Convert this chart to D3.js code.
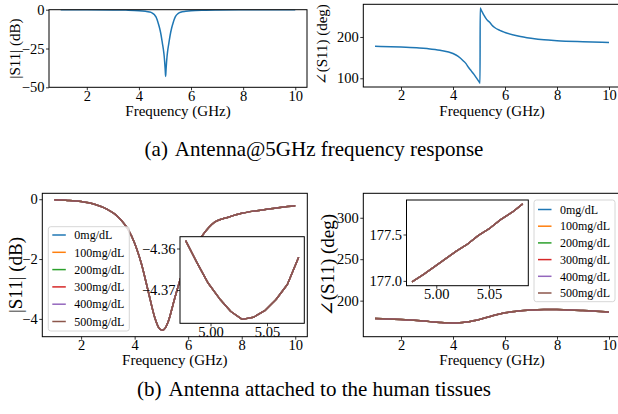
<!DOCTYPE html>
<html>
<head>
<meta charset="utf-8">
<script src="https://cdn.jsdelivr.net/npm/d3@7"></script>
<style>
  body { margin: 0; background: #fff; }
  svg, svg text { font-family: "Liberation Serif", "Times New Roman", Times, "DejaVu Serif", serif !important; fill: #000; }
</style>
</head>
<body>
<div id="chart"></div>
<script>
// (a) antenna alone: |S11| and phase
const freqRes = [1, 2, 3, 3.5, 4, 4.25, 4.4, 4.5, 4.6, 4.65, 4.7, 4.75, 4.8, 4.85, 4.9, 4.95, 4.97, 4.99, 5.01, 5.025,
                 5.04, 5.06, 5.08, 5.1, 5.15, 5.2, 5.25, 5.3, 5.35, 5.4, 5.5, 5.6, 5.8, 6, 6.5, 7, 8, 9, 10];
const magRes = [-0.03, -0.05, -0.12, -0.25, -0.6, -1.05, -1.45, -2.0, -3.3, -4.5, -6.5, -9.2, -12.3, -16.3, -21.5, -27, -30, -34, -39, -43,
                -39, -34, -30, -27, -21.5, -16.3, -12.3, -9.2, -6.5, -4.5, -2.5, -1.65, -1.05, -0.65, -0.3, -0.17, -0.08, -0.05, -0.03];
const freqPhase = [1, 2, 2.7, 3, 3.5, 4, 4.2, 4.4, 4.5, 4.6, 4.7, 4.8, 4.9, 5.0, 5.04,
                   5.045, 5.1, 5.17, 5.3, 5.4, 5.5, 5.6, 5.8, 6, 6.5, 7, 7.5, 8, 9, 10];
const phaseRes = [177.5, 175.5, 173.6, 172, 168, 160, 153, 142, 135.5, 126, 118, 110, 101, 92, 88,
                  270, 263, 255, 242, 236, 228.5, 223, 216, 211, 202.5, 197, 193, 191, 188.5, 186.5];

// (b) antenna on tissue, six glucose levels (curves overlap)
const concentrations = ["0mg/dL", "100mg/dL", "200mg/dL", "300mg/dL", "400mg/dL", "500mg/dL"];
const freqTissue = [1, 1.5, 2, 2.5, 3, 3.25, 3.5, 3.75, 4, 4.25, 4.5, 4.75, 4.9, 5.03, 5.15,
                    5.25, 5.5, 5.75, 6, 6.25, 6.5, 7, 7.5, 8, 8.5, 9, 9.5, 10];
const magTissue = [-0.02, -0.04, -0.08, -0.17, -0.35, -0.49, -0.7, -1.0, -1.47, -2.15, -3.05, -3.95, -4.29, -4.377, -4.30,
                   -4.1, -3.3, -2.55, -2.0, -1.6, -1.25, -0.76, -0.6, -0.47, -0.39, -0.33, -0.27, -0.22];
const phaseTissue = [178.5, 178, 177.2, 176.2, 175, 174.3, 173.7, 173.2, 173, 173.3, 174.2, 175.5, 176.4, 177.4, 178.4,
                     179.3, 181.5, 183.6, 185.3, 186.6, 187.6, 188.8, 189.3, 189.2, 188.8, 188.1, 187.3, 186.4];

// zoomed insets around 5 GHz
const freqMagZoom = [4.978, 4.988, 4.998, 5.008, 5.018, 5.028, 5.038, 5.048, 5.058, 5.068, 5.078];
const magZoom = [-4.3581, -4.3634, -4.3684, -4.3721, -4.3752, -4.3771, -4.3766, -4.3750, -4.3723, -4.3687, -4.3621];
const freqPhaseZoom = [4.977, 4.988, 4.998, 5.009, 5.019, 5.030, 5.040, 5.051, 5.061, 5.072, 5.082];
const phaseZoom = [176.99, 177.07, 177.15, 177.24, 177.32, 177.40, 177.49, 177.57, 177.66, 177.74, 177.83];

// tick values
const freqTicks = [2, 4, 6, 8, 10];
const magResTicks = [0, -25, -50];
const phaseResTicks = [100, 200];
const magTissueTicks = [0, -2, -4];
const phaseTissueTicks = [200, 250, 300];
const zoomFreqTicks = [5.00, 5.05];
const magZoomTicks = [-4.36, -4.37];
const phaseZoomTicks = [177.0, 177.5];

const colors = d3.schemeCategory10.slice(0, 6);
const FONT = '"Liberation Serif", "Times New Roman", Times, "DejaVu Serif", serif';
const tickFont = 14.5, labelFont = 15, legendFont = 12, captionFont = 21;

const svg = d3.select("#chart").append("svg")
    .attr("width", 618)
    .attr("height", 414)
    .attr("font-family", FONT);

// matplotlib style 5% autoscale margin
function padded(values){
    const [lo, hi] = d3.extent(values);
    const r = hi - lo;
    return [lo - r * 0.05, hi + r * 0.05];
}

let clipCount = 0;
function makeAxes(box, xDomain, yDomain, opt){
    const x = d3.scaleLinear().domain(xDomain).range([0, box.w]);
    const y = d3.scaleLinear().domain(yDomain).range([box.h, 0]);
    const g = svg.append("g").attr("transform", "translate(" + box.x + "," + box.y + ")");
    if (opt.background) {
        g.append("rect").attr("width", box.w).attr("height", box.h).attr("fill", "#fff");
    }
    const id = "clip" + (clipCount++);
    g.append("clipPath").attr("id", id)
        .append("rect").attr("width", box.w).attr("height", box.h);
    const plot = g.append("g").attr("clip-path", "url(#" + id + ")");

    const xAxisG = g.append("g")
        .attr("transform", "translate(0," + box.h + ")")
        .call(d3.axisBottom(x).tickValues(opt.xTicks).tickFormat(opt.xFormat)
            .tickSize(3).tickPadding(0).tickSizeOuter(0));
    const yAxisG = g.append("g")
        .call(d3.axisLeft(y).tickValues(opt.yTicks).tickFormat(opt.yFormat)
            .tickSize(3).tickPadding(1.5).tickSizeOuter(0));
    [xAxisG, yAxisG].forEach(a => {
        a.attr("font-family", FONT).attr("font-size", tickFont);
        a.select(".domain").remove();
        a.selectAll("line").attr("stroke", "#000").attr("stroke-width", 0.8);
        a.selectAll("text").attr("fill", "#000");
    });
    return {g, plot, x, y, box};
}

function frame(ax){
    ax.g.append("rect")
        .attr("width", ax.box.w).attr("height", ax.box.h)
        .attr("fill", "none").attr("stroke", "#000").attr("stroke-width", 1);
}

function drawLine(ax, xs, ys, color, curve){
    const pts = xs.map((f, i) => [f, ys[i]]);
    ax.plot.append("path")
        .datum(pts)
        .attr("fill", "none")
        .attr("stroke", color)
        .attr("stroke-width", 1.5)
        .attr("stroke-linejoin", "round")
        .attr("d", d3.line().x(d => ax.x(d[0])).y(d => ax.y(d[1])).curve(curve));
}

function xLabel(ax, text, baseline){
    svg.append("text")
        .attr("x", ax.box.x + ax.box.w / 2)
        .attr("y", baseline)
        .attr("text-anchor", "middle")
        .attr("font-size", labelFont)
        .text(text);
}

function yLabel(x, cy, text, size){
    svg.append("text")
        .attr("transform", "translate(" + x + "," + cy + ") rotate(-90)")
        .attr("text-anchor", "middle")
        .attr("font-size", size)
        .text(text);
}

// legend box with rows placed relative to its top-left corner
function legend(x, y, w, h, rowY0, rowGap){
    const lg = svg.append("g").attr("transform", "translate(" + x + "," + y + ")");
    lg.append("rect")
        .attr("width", w).attr("height", h).attr("rx", 2.5)
        .attr("fill", "#fff").attr("fill-opacity", 0.8)
        .attr("stroke", "#cccccc").attr("stroke-width", 0.8);
    const rows = lg.selectAll(".row").data(concentrations).join("g")
        .attr("class", "row")
        .attr("transform", (d, i) => "translate(0," + (rowY0 + i * rowGap) + ")");
    rows.append("line")
        .attr("x1", 4).attr("x2", 17.5)
        .attr("stroke", (d, i) => colors[i]).attr("stroke-width", 1.5);
    rows.append("text")
        .attr("x", 26).attr("y", 4.2)
        .attr("font-size", legendFont)
        .text(d => d);
}

const fmtInt = d3.format("d");
const xFull = [0.55, 10.45];

// ---- (a) left: |S11| ----
const axA1 = makeAxes({x: 49, y: 9.7, w: 258, h: 77.6}, xFull, [-50, 0],
    {xTicks: freqTicks, yTicks: magResTicks, xFormat: fmtInt, yFormat: fmtInt});
drawLine(axA1, freqRes, magRes, colors[0], d3.curveMonotoneX);
frame(axA1);
xLabel(axA1, "Frequency (GHz)", 116);
yLabel(20, 48.5, "|S11| (dB)", labelFont);

// ---- (a) right: phase ----
const axA2 = makeAxes({x: 363.3, y: 4.3, w: 257.4, h: 82.7}, xFull, padded(phaseRes),
    {xTicks: freqTicks, yTicks: phaseResTicks, xFormat: fmtInt, yFormat: fmtInt});
drawLine(axA2, freqPhase, phaseRes, colors[0], d3.curveMonotoneX);
frame(axA2);
xLabel(axA2, "Frequency (GHz)", 116);
yLabel(327, 44.5, "\u2220(S11) (deg)", labelFont);

// ---- (b) left: |S11| on tissue ----
const axB1 = makeAxes({x: 42.3, y: 193.3, w: 265, h: 143.4}, xFull, padded(magTissue),
    {xTicks: freqTicks, yTicks: magTissueTicks, xFormat: fmtInt, yFormat: fmtInt});
concentrations.forEach((c, i) => drawLine(axB1, freqTissue, magTissue, colors[i], d3.curveMonotoneX));
frame(axB1);
xLabel(axB1, "Frequency (GHz)", 365);
yLabel(21.5, 275, "|S11| (dB)", 19);

const insB1 = makeAxes({x: 180, y: 236.7, w: 124.3, h: 86.6}, padded(freqMagZoom), padded(magZoom),
    {xTicks: zoomFreqTicks, yTicks: magZoomTicks, xFormat: d3.format(".2f"), yFormat: d3.format(".2f"), background: true});
concentrations.forEach((c, i) => drawLine(insB1, freqMagZoom, magZoom, colors[i], d3.curveLinear));
frame(insB1);
legend(48.3, 226.7, 81, 104.3, 8.3, 17.3);

// ---- (b) right: phase on tissue ----
const axB2 = makeAxes({x: 363.3, y: 193.3, w: 257.4, h: 143.4}, xFull, [156.5, 329.5],
    {xTicks: freqTicks, yTicks: phaseTissueTicks, xFormat: fmtInt, yFormat: fmtInt});
concentrations.forEach((c, i) => drawLine(axB2, freqTissue, phaseTissue, colors[i], d3.curveMonotoneX));
frame(axB2);
xLabel(axB2, "Frequency (GHz)", 365);
yLabel(334, 265, "\u2220(S11) (deg)", 19);

const insB2 = makeAxes({x: 406.5, y: 200, w: 121.8, h: 85.7}, padded(freqPhaseZoom), padded(phaseZoom),
    {xTicks: zoomFreqTicks, yTicks: phaseZoomTicks, xFormat: d3.format(".2f"), yFormat: d3.format(".1f"), background: true});
concentrations.forEach((c, i) => drawLine(insB2, freqPhaseZoom, phaseZoom, colors[i], d3.curveLinear));
frame(insB2);
legend(534, 200, 81, 101.7, 9.5, 16.7);

// ---- captions ----
svg.append("text").attr("x", 314).attr("y", 156)
    .attr("text-anchor", "middle").attr("font-size", captionFont)
    .text("(a)\u2004Antenna@5GHz frequency response");
svg.append("text").attr("x", 314).attr("y", 396)
    .attr("text-anchor", "middle").attr("font-size", captionFont)
    .text("(b)\u2004Antenna attached to the human tissues");
</script>
</body>
</html>
